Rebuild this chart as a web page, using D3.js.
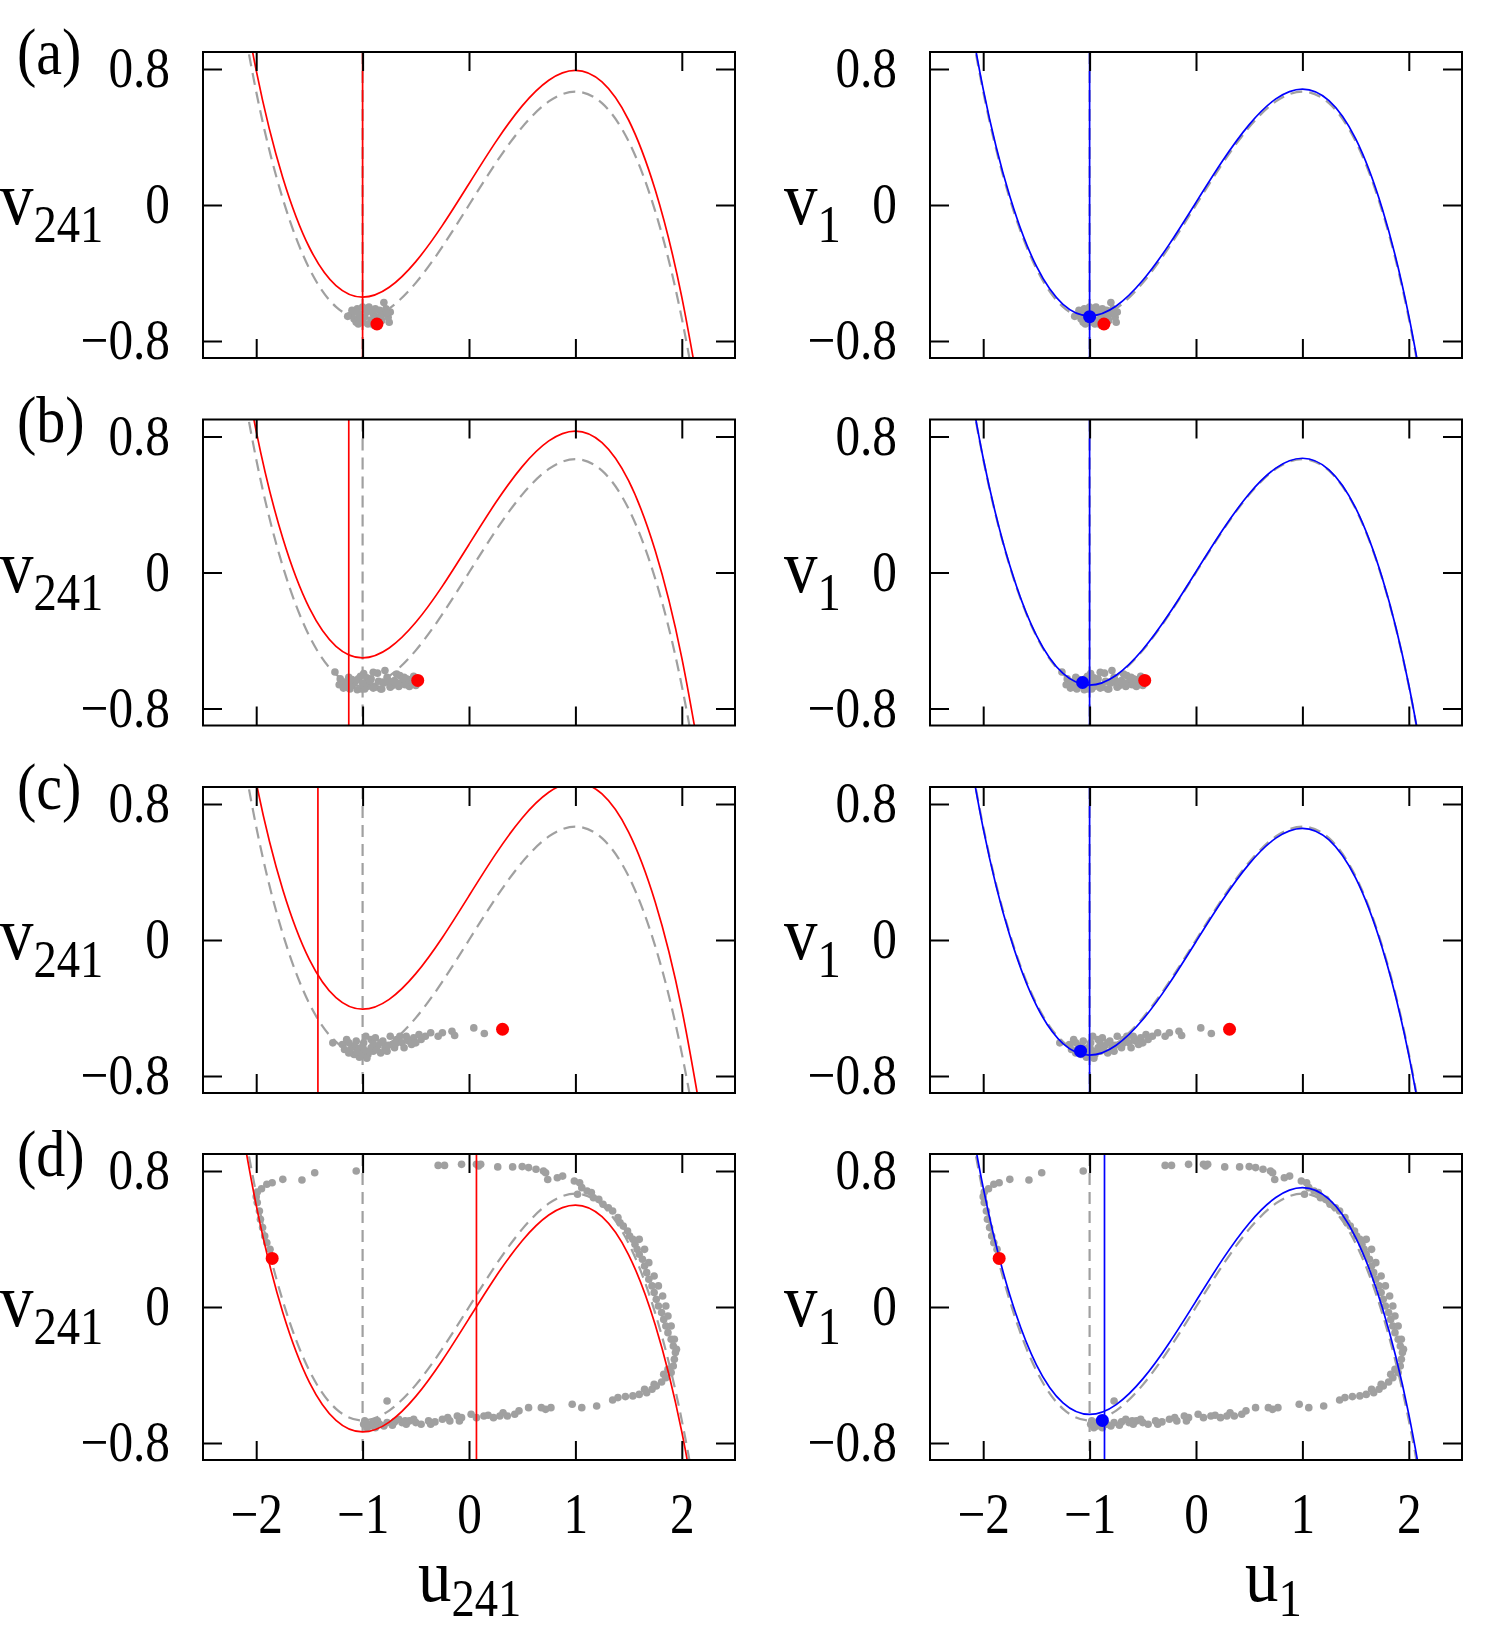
<!DOCTYPE html>
<html><head><meta charset="utf-8">
<script src="https://cdn.jsdelivr.net/npm/d3@7"></script>
<style>
body{margin:0;background:#fff}
text{font-family:"Liberation Serif","Times New Roman",serif;fill:#000}
</style>
</head><body>
<svg id="c" width="1500" height="1628"></svg>
<script>
// ---------- data ----------
const panelLabels = ["(a)","(b)","(c)","(d)"];
const xTicks = [-2,-1,0,1,2];
const yTicks = [-0.8,0,0.8];
const xTickLabels = ["\u22122","\u22121","0","1","2"];
const yTickLabels = ["\u22120.8","0","0.8"];

// cubic nullcline samples (u, v)
const uGrid = [-2.25,-2,-1.75,-1.5,-1.25,-1,-0.75,-0.5,-0.25,0,0.25,0.5,0.75,1,1.25,1.5,1.75,2,2.25];
const vNull = [1.547,0.667,0.036,-0.375,-0.599,-0.667,-0.609,-0.458,-0.245,0,0.245,0.458,0.609,0.667,0.599,0.375,-0.036,-0.667,-1.547];

// vertical offset of the coloured nullclines in each row
const redShift  = [0.125,0.165,0.26,-0.068];
const blueShift = [0.015,0.005,-0.01,0.035];
// vertical nullclines
const grayVert = -1;
const redVert  = [-1.0,-1.13,-1.42,0.07];
const blueVert = [-1.0,-1.0,-1.0,-0.86];
// highlighted states
const redDot  = [[-0.865,-0.70],[-0.482,-0.635],[0.315,-0.525],[-1.85,0.286]];
const blueDot = [[-1.0,-0.657],[-1.066,-0.647],[-1.085,-0.654],[-0.88,-0.667]];

// network states (gray)
const cloudA = [[-1.12,-0.65],[-1.10,-0.62],[-1.08,-0.67],[-1.05,-0.61],[-1.03,-0.64],[-1.0,-0.60],[-0.98,-0.66],[-0.96,-0.63],[-0.94,-0.60],[-0.92,-0.68],[-0.90,-0.64],[-0.88,-0.61],[-0.86,-0.66],[-0.84,-0.62],[-0.82,-0.68],[-0.80,-0.64],[-0.78,-0.61],[-0.76,-0.66],[-0.74,-0.63],[-1.06,-0.69],[-0.95,-0.70],[-0.85,-0.70],[-0.80,-0.574],[-0.75,-0.69],[-1.0,-0.69],[-0.92,-0.62],[-1.08,-0.63],[-1.02,-0.67],[-0.97,-0.615],[-0.89,-0.67],[-0.83,-0.65],[-0.77,-0.635],[-1.14,-0.655],[-1.04,-0.70],[-0.90,-0.705]];
const cloudB = [[-1.26,-0.585],[-1.21,-0.626],[-1.17,-0.645],[-1.13,-0.616],[-1.10,-0.665],[-1.06,-0.635],[-1.01,-0.685],[-0.99,-0.594],[-0.97,-0.655],[-0.92,-0.626],[-0.88,-0.675],[-0.86,-0.592],[-0.81,-0.645],[-0.77,-0.616],[-0.74,-0.669],[-0.70,-0.635],[-0.65,-0.606],[-0.63,-0.655],[-0.59,-0.626],[-0.54,-0.645],[-0.52,-0.610],[-0.50,-0.665],[-1.15,-0.675],[-1.04,-0.626],[-0.95,-0.669],[-0.90,-0.587],[-0.83,-0.685],[-0.79,-0.577],[-0.72,-0.665],[-0.68,-0.597],[-0.61,-0.616],[-0.56,-0.670],[-1.19,-0.66],[-1.08,-0.65],[-0.96,-0.62],[-0.85,-0.64],[-0.75,-0.64],[-0.66,-0.65],[-0.57,-0.63],[-1.02,-0.61],
[-1.18,-0.68],[-1.12,-0.685],[-1.05,-0.69],[-0.98,-0.685],[-0.90,-0.68],[-0.82,-0.685],[-0.74,-0.675],[-0.66,-0.67],[-0.60,-0.66],[-0.53,-0.65],[-1.22,-0.66],[-0.93,-0.64],[-0.80,-0.65],[-0.70,-0.645],[-0.62,-0.625],[-1.0,-0.65],[-1.1,-0.63]];
const cloudC = [[-1.28,-0.605],[-1.19,-0.615],[-1.17,-0.644],[-1.13,-0.664],[-1.08,-0.673],[-1.01,-0.683],[-0.95,-0.673],[-1.06,-0.634],[-0.99,-0.605],[-0.92,-0.585],[-0.99,-0.644],[-0.90,-0.654],[-0.86,-0.624],[-0.81,-0.595],[-0.79,-0.634],[-0.74,-0.566],[-0.72,-0.615],[-0.68,-0.585],[-0.63,-0.605],[-0.59,-0.566],[-0.56,-0.595],[-0.52,-0.576],[-0.47,-0.556],[-0.45,-0.585],[-0.41,-0.566],[-0.36,-0.546],[-0.29,-0.566],[-0.25,-0.546],[-0.16,-0.537],[-0.135,-0.562],[0.045,-0.517],[0.144,-0.550],[-1.10,-0.624],[-1.15,-0.585],[-0.97,-0.566],[-0.88,-0.576],[-0.83,-0.664],[-0.77,-0.654],[-0.70,-0.634],[-0.65,-0.566],[-0.61,-0.634],[-0.54,-0.615],[-0.50,-0.605],[-1.04,-0.654],[-0.97,-0.673],[-0.92,-0.634],[-0.83,-0.605],[-1.06,-0.595],[-1.13,-0.605],[-1.03,-0.69],[-0.96,-0.695],
[-1.12,-0.65],[-1.05,-0.66],[-0.94,-0.655],[-0.87,-0.645],[-0.76,-0.62],[-0.69,-0.61],[-0.58,-0.59],[-1.0,-0.625],[-0.9,-0.61]];
const cloudD = [[-1.06,0.80],[-1.45,0.79],[-1.57,0.747],[-1.75,0.751],[-1.85,0.731],[-1.90,0.722],[-1.95,0.696],[-1.99,0.676],[-2.0,0.649],[-1.99,0.614],[-1.97,0.565],[-1.96,0.516],[-1.94,0.467],[-1.92,0.418],[-1.90,0.378],[-1.87,0.339],
[-0.29,0.833],[-0.23,0.833],[-0.07,0.839],[0.07,0.839],[0.11,0.839],[0.09,0.83],[0.27,0.824],[0.41,0.824],[0.50,0.826],[0.56,0.82],[0.63,0.81],[0.70,0.80],[0.72,0.79],[0.74,0.75],[0.83,0.76],[0.88,0.77],
[0.99,0.741],[1.04,0.731],[1.02,0.663],[1.06,0.702],[1.11,0.682],[1.15,0.673],[1.17,0.643],[1.22,0.633],[1.26,0.604],[1.31,0.584],[1.35,0.565],[1.40,0.526],[1.42,0.496],[1.45,0.476],[1.49,0.447],[1.51,0.418],[1.54,0.398],[1.56,0.369],[1.58,0.339],[1.60,0.310],[1.63,0.281],[1.65,0.241],[1.67,0.202],[1.69,0.163],[1.72,0.124],[1.74,0.085],[1.76,0.045],[1.78,0.006],[1.81,-0.033],[1.83,-0.073],[1.85,-0.112],[1.87,-0.151],[1.90,-0.190],[1.92,-0.229],[1.94,-0.268],[1.93,-0.308],[1.92,-0.347],[1.90,-0.386],[1.85,-0.416],[1.81,-0.441],[1.76,-0.465],[1.72,-0.484],[1.67,-0.504],[1.60,-0.514],[1.54,-0.523],[1.47,-0.527],[1.40,-0.533],[1.35,-0.547],
[1.60,0.398],[1.65,0.339],[1.69,0.261],[1.74,0.182],[1.78,0.124],[1.82,0.065],[1.85,0.006],[1.87,-0.053],[1.90,-0.112],[1.93,-0.190],[1.95,-0.249],[1.87,-0.367],[1.83,-0.396],[1.74,-0.455],[1.65,-0.484],
[1.20,-0.582],[1.06,-0.592],[0.97,-0.572],[0.77,-0.592],[0.72,-0.602],[0.68,-0.592],[0.56,-0.592],[0.47,-0.611],[0.43,-0.631],[0.36,-0.641],[0.29,-0.641],[0.23,-0.651],[0.14,-0.641],[0.07,-0.651],[0.02,-0.631],[-0.07,-0.651],[-0.11,-0.641],[-0.18,-0.670],[-0.25,-0.660],[-0.32,-0.676],[-0.38,-0.670],[-0.45,-0.690],[-0.50,-0.680],[-0.56,-0.670],[-0.63,-0.680],[-0.70,-0.676],[-0.77,-0.680],[-0.84,-0.690],[-0.90,-0.676],[-0.95,-0.690],[-0.98,-0.670],[-0.77,-0.553],
[-0.93,-0.70],[-0.86,-0.670],[-0.72,-0.696],[-0.59,-0.690],[-0.52,-0.661],[-0.36,-0.690],[-0.20,-0.651],[-0.09,-0.670],[0.32,-0.622],[0.18,-0.637],
[-0.99,-0.69],[-0.96,-0.71],[-0.88,-0.71],[-0.80,-0.70],[-0.66,-0.66],[-0.60,-0.67]];
const clouds = [cloudA, cloudB, cloudC, cloudD];

// ---------- layout ----------
const svg = d3.select("#c");
const colX = [203, 930];
const pw = 532, ph = 306;
const rowY = [52, 419.5, 787, 1154];
const x = d3.scaleLinear().domain([-2.5,2.5]).range([0,pw]);
const y = d3.scaleLinear().domain([-0.9,0.9]).range([ph,0]);
const GRAY = "#a0a0a0", RED = "#ff0000", BLUE = "#0000ff";
const SQ = 0.88; // horizontal squeeze of the lettering
const line = d3.line().x(d=>x(d[0])).y(d=>y(d[1])).curve(d3.curveNatural);
const nullPts = s => uGrid.map((u,i)=>[u, vNull[i]+s]);

function condense(sel){
  sel.each(function(){
    const t = d3.select(this);
    const xx = +t.attr("x") || 0, yy = +t.attr("y") || 0;
    t.attr("x",0).attr("y",0).attr("transform",`translate(${xx},${yy}) scale(${SQ},1)`);
  });
}
function styleAxis(g){
  g.select(".domain").remove();
  g.selectAll(".tick line").attr("stroke","#000").attr("stroke-width",2);
  g.attr("font-family",null).attr("font-size",null);
  const t = g.selectAll("text").attr("font-size",56).attr("fill","#000");
  condense(t);
}
function title(xp, yp, main, sub, subDy){
  const t = svg.append("text").attr("x",xp).attr("y",yp);
  t.append("tspan").attr("font-size",76).text(main);
  t.append("tspan").attr("font-size",53).attr("dy",subDy).text(sub);
  condense(t);
}

for (let r=0;r<4;r++){
  for (let c=0;c<2;c++){
    const g = svg.append("g").attr("transform",`translate(${colX[c]},${rowY[r]})`);
    const cid = `clip${r}${c}`;
    g.append("clipPath").attr("id",cid).append("rect").attr("width",pw).attr("height",ph);
    const p = g.append("g").attr("clip-path",`url(#${cid})`);
    // gray reference nullclines
    p.append("path").attr("d",line(nullPts(0))).attr("fill","none")
      .attr("stroke",GRAY).attr("stroke-width",2.2).attr("stroke-dasharray","12,7");
    p.append("line").attr("x1",x(grayVert)).attr("x2",x(grayVert)).attr("y1",0).attr("y2",ph)
      .attr("stroke",GRAY).attr("stroke-width",2.2).attr("stroke-dasharray","12,7");
    // gray states
    p.append("g").selectAll("circle").data(clouds[r]).join("circle")
      .attr("cx",d=>x(d[0])).attr("cy",d=>y(d[1])).attr("r",3.8).attr("fill",GRAY);
    const col = c===0 ? RED : BLUE;
    const sh = c===0 ? redShift[r] : blueShift[r];
    const vx = c===0 ? redVert[r] : blueVert[r];
    p.append("path").attr("d",line(nullPts(sh))).attr("fill","none")
      .attr("stroke",col).attr("stroke-width",1.7);
    p.append("line").attr("x1",x(vx)).attr("x2",x(vx)).attr("y1",0).attr("y2",ph)
      .attr("stroke",col).attr("stroke-width",1.7);
    if (c===1){
      p.append("circle").attr("cx",x(blueDot[r][0])).attr("cy",y(blueDot[r][1])).attr("r",6.5).attr("fill",BLUE);
    }
    p.append("circle").attr("cx",x(redDot[r][0])).attr("cy",y(redDot[r][1])).attr("r",6.5).attr("fill",RED);

    // axes with inward ticks
    const ay = g.append("g").call(d3.axisLeft(y).tickValues(yTicks).tickSize(-19).tickPadding(33)
      .tickFormat((d,i)=>yTickLabels[i]));
    styleAxis(ay);
    const ar = g.append("g").attr("transform",`translate(${pw},0)`)
      .call(d3.axisRight(y).tickValues(yTicks).tickSize(-19).tickFormat(""));
    styleAxis(ar);
    const at = g.append("g").call(d3.axisTop(x).tickValues(xTicks).tickSize(-19).tickFormat(""));
    styleAxis(at);
    const ab = g.append("g").attr("transform",`translate(0,${ph})`)
      .call(d3.axisBottom(x).tickValues(xTicks).tickSize(-19).tickPadding(33)
        .tickFormat((d,i)=> r===3 ? xTickLabels[i] : ""));
    styleAxis(ab);
    // frame
    g.append("rect").attr("width",pw).attr("height",ph).attr("fill","none")
      .attr("stroke","#000").attr("stroke-width",2);

    // y axis title
    title(c===0 ? 0 : 784, rowY[r]+y(0)+19, "v", c===0 ? "241" : "1", 18);
  }
  const pl = svg.append("text").attr("x",17).attr("y",rowY[r]+22).attr("font-size",66).text(panelLabels[r]);
  condense(pl);
}
// x axis titles
title(418, 1601, "u", "241", 15);
title(1245, 1601, "u", "1", 15);
</script>
</body></html>
